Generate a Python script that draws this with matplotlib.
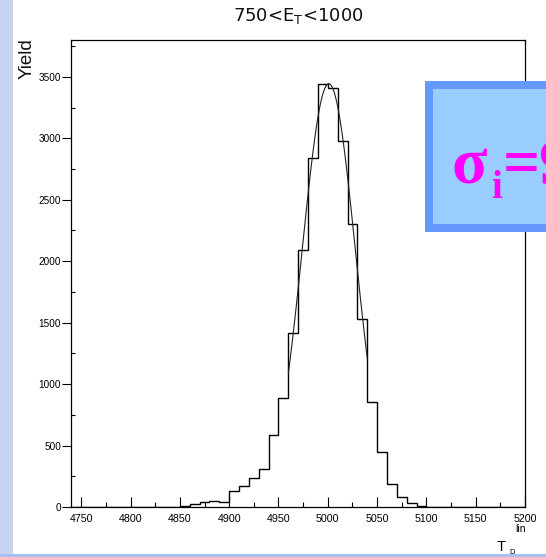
import numpy as np
import matplotlib
matplotlib.use("Agg")
import matplotlib.pyplot as plt
from matplotlib.patches import Rectangle
from matplotlib.ticker import MultipleLocator, FixedLocator

# ---------------- data ----------------
bin_edges = np.arange(4740, 5201, 10)
counts = [0, 0, 0, 0, 4, 4, 4, 4, 4, 4,
          4, 8, 22, 38, 51, 41, 130, 172, 235, 307,
          585, 887, 1417, 2094, 2838, 3440, 3407, 2975, 2306, 1533,
          851, 451, 184, 79, 30, 6, 3, 3, 0, 0,
          0, 0, 0, 0, 0, 0]
fit_amp = 3445.0
fit_mean = 5001.0
fit_sigma = 27.0
fit_range = (4960, 5040)

x_ticks = [4750, 4800, 4850, 4900, 4950, 5000, 5050, 5100, 5150, 5200]
y_ticks = [0, 500, 1000, 1500, 2000, 2500, 3000, 3500]
title_text = "750<E$_\\mathregular{T}$<1000"
ylabel_text = "Yield"
box_sigma = "σ"
box_sub = "i"
box_rest = "=9"

# ---------------- figure ----------------
W, H = 546, 557
plt.rcParams['font.family'] = ['Liberation Sans', 'DejaVu Sans']
plt.rcParams['mathtext.default'] = 'regular'
fig = plt.figure(figsize=(W / 100, H / 100), dpi=100)
fig.patch.set_facecolor('white')

def fx(px):
    return px / W

def fy(py):
    return 1 - py / H

# background decoration strips
fig.add_artist(Rectangle((0, 0), fx(13), 1, transform=fig.transFigure,
                         facecolor='#c6d2f2', edgecolor='none', zorder=0))
fig.add_artist(Rectangle((0, 0), 1, 3 / H, transform=fig.transFigure,
                         facecolor='#a9bff0', edgecolor='none', zorder=0))

ax_l, ax_r, ax_b, ax_t = 71.4, 525.0, 507.0, 40.0
ax = fig.add_axes([fx(ax_l), fy(ax_b), fx(ax_r - ax_l), (ax_b - ax_t) / H])
ax.set_facecolor('white')

ax.stairs(counts, bin_edges, color='black', lw=1.0, baseline=0)
xf = np.linspace(fit_range[0], fit_range[1], 120)
yf = fit_amp * np.exp(-0.5 * ((xf - fit_mean) / fit_sigma) ** 2)
ax.plot(xf, yf, color='#222222', lw=0.8)

ax.set_xlim(4740, 5200)
ax.set_ylim(0, 3800)
ax.xaxis.set_major_locator(FixedLocator(x_ticks))
ax.yaxis.set_major_locator(FixedLocator(y_ticks))
ax.xaxis.set_minor_locator(MultipleLocator(25))
ax.yaxis.set_minor_locator(MultipleLocator(250))
ax.set_xticklabels([str(v) for v in x_ticks])
ax.set_yticklabels([str(v) for v in y_ticks])

ax.tick_params(axis='x', which='major', direction='in', length=7, width=0.8,
               labelsize=7.7, pad=5)
ax.tick_params(axis='x', which='minor', direction='in', length=3.5, width=0.8)
ax.tick_params(axis='y', which='major', direction='out', length=6.5, width=0.8,
               labelsize=7.2, pad=1)
ax.tick_params(axis='y', which='minor', direction='in', length=3, width=0.8)
for s in ax.spines.values():
    s.set_color('black')
    s.set_linewidth(0.9)

# texts
fig.text(fx(298), fy(16), title_text, ha='center', va='center', fontsize=13,
         family=['DejaVu Sans'], color='#111111')
fig.text(fx(27), fy(38), ylabel_text, ha='center', va='top', rotation=90,
         fontsize=13.5, color='#111111')
fig.text(fx(497), fy(551), "T", ha='left', va='baseline', fontsize=10.5)
fig.text(fx(509), fy(554), "D", ha='left', va='baseline', fontsize=5.5)
fig.text(fx(515), fy(532), "lin", ha='left', va='baseline', fontsize=7.5)

# blue box
fig.add_artist(Rectangle((fx(425), fy(232)), fx(140), (232 - 81) / H,
                         transform=fig.transFigure, facecolor='#6699ff',
                         edgecolor='none', zorder=5))
fig.add_artist(Rectangle((fx(433), fy(224)), fx(140), (224 - 89) / H,
                         transform=fig.transFigure, facecolor='#99ccff',
                         edgecolor='none', zorder=6))
serif = ['Liberation Serif', 'DejaVu Serif']
fig.text(fx(451), fy(183), box_sigma, ha='left', va='baseline', fontsize=47,
         color='#ff00ff', fontweight='bold', family=serif, zorder=7)
fig.text(fx(491), fy(198), box_sub, ha='left', va='baseline', fontsize=28,
         color='#ff00ff', fontweight='bold', family=serif, zorder=7)
fig.text(fx(503), fy(183), box_rest, ha='left', va='baseline', fontsize=47,
         color='#ff00ff', fontweight='bold', family=serif, zorder=7)

fig.savefig("out.png", dpi=100)
